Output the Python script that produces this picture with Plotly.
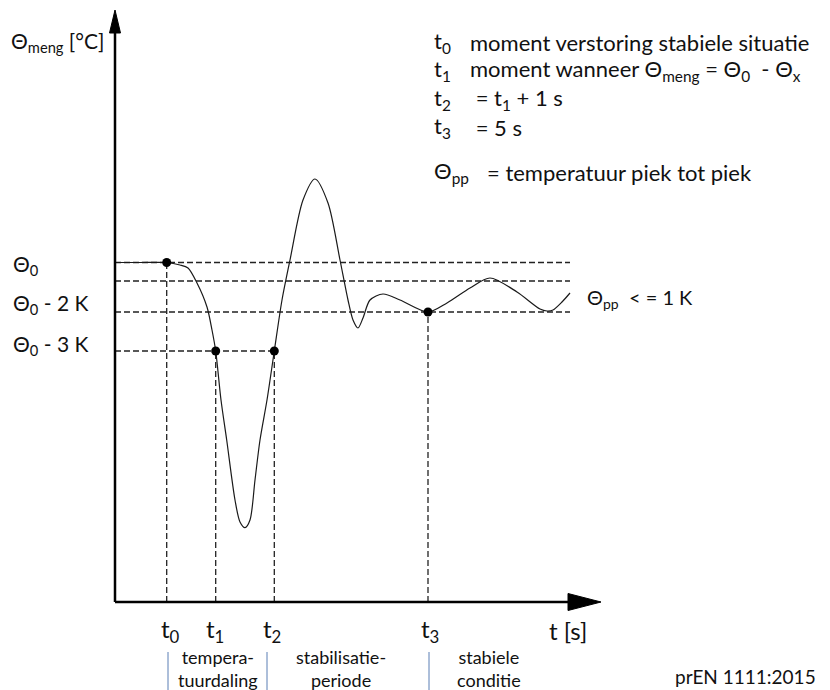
import plotly.graph_objects as go

# Mixing temperature response after a disturbance (schematic, arbitrary units)
time = [0.0, 2.5, 5.17, 6.5, 7.3, 8.2, 9.2, 9.7, 10.07, 10.6, 11.17, 12.0, 12.5, 13.0,
        13.5, 14.0, 14.5, 15.2, 15.93, 16.7, 17.5, 18.8, 20.0, 21.3, 22.5, 23.3, 23.8,
        24.3, 24.8, 25.5, 26.8, 28.5, 31.3, 33.2, 35.5, 37.5, 40.2, 42.5, 43.2, 43.8,
        44.7, 45.5]
temp = [33.95, 33.95, 33.95, 33.7, 33.4, 31.9, 29.5, 27.2, 25.1, 20.2, 16.2, 10.2, 8.0, 7.43,
        8.2, 12.2, 16.2, 20.2, 25.1, 30.2, 34.2, 40.2, 42.3, 39.9, 34.2, 30.2, 28.2,
        27.4, 28.4, 30.2, 30.8, 30.2, 29.0, 29.9, 31.4, 32.4, 31.0, 29.3, 29.1, 29.2,
        30.0, 30.9]

# Reference temperature levels
theta_0 = 33.95
theta_mid = 32.1
theta_2k = 29.0
theta_3k = 25.1
level_end = 45.5

# Characteristic moments
moments = [5.17, 10.07, 15.93, 31.3]
moment_levels = [theta_0, theta_3k, theta_3k, theta_2k]
moment_labels = ["t<sub>0</sub>", "t<sub>1</sub>", "t<sub>2</sub>", "t<sub>3</sub>"]
moment_label_x = [5.5, 10.0, 15.7, 31.5]

# Phase boundaries and phase names
phase_bounds = [5.3, 15.2, 31.4]
phase_names = ["tempera-<br>tuurdaling", "stabilisatie-<br>periode", "stabiele<br>conditie"]
phase_x = [10.3, 22.6, 37.4]

level_labels = ["Θ<sub>0</sub>", "Θ<sub>0</sub> - 2 K", "Θ<sub>0</sub> - 3 K"]
level_label_y = [33.7, 29.8, 25.7]

FONT = "Lato, 'Open Sans', 'DejaVu Sans', sans-serif"
INK = "#111111"
DASH = "6px,3px"

fig = go.Figure()

# Horizontal dashed reference levels
for lvl, x_end in [(theta_0, level_end), (theta_mid, level_end),
                   (theta_2k, level_end), (theta_3k, moments[2])]:
    fig.add_trace(go.Scatter(x=[0, x_end], y=[lvl, lvl], mode="lines",
                             line=dict(color="#222222", width=1.3, dash=DASH),
                             hoverinfo="skip", showlegend=False))

# Vertical dashed drop lines at each moment
for t, lvl in zip(moments, moment_levels):
    fig.add_trace(go.Scatter(x=[t, t], y=[0, lvl], mode="lines",
                             line=dict(color="#222222", width=1.3, dash=DASH),
                             hoverinfo="skip", showlegend=False))

# Temperature curve
fig.add_trace(go.Scatter(x=time, y=temp, mode="lines",
                         line=dict(color="#1a1a1a", width=1.2, shape="spline", smoothing=0.8),
                         hoverinfo="skip", showlegend=False))

# Markers at the characteristic moments
fig.add_trace(go.Scatter(x=moments, y=moment_levels, mode="markers",
                         marker=dict(color="black", size=9),
                         hoverinfo="skip", showlegend=False))

# Axes with arrowheads
fig.add_trace(go.Scatter(x=[0, 0], y=[0, 56.9], mode="lines",
                         line=dict(color="black", width=2.5),
                         hoverinfo="skip", showlegend=False))
fig.add_trace(go.Scatter(x=[0, 45.3], y=[0, 0], mode="lines",
                         line=dict(color="black", width=2.5),
                         hoverinfo="skip", showlegend=False))
fig.add_trace(go.Scatter(x=[-0.55, 0, 0.55, -0.55], y=[56.9, 59.2, 56.9, 56.9],
                         mode="lines", fill="toself", fillcolor="black",
                         line=dict(color="black", width=1),
                         hoverinfo="skip", showlegend=False))
fig.add_trace(go.Scatter(x=[45.3, 48.6, 45.3, 45.3], y=[0.85, 0, -0.85, 0.85],
                         mode="lines", fill="toself", fillcolor="black",
                         line=dict(color="black", width=1),
                         hoverinfo="skip", showlegend=False))

# Phase separators below the time axis
for b in phase_bounds:
    fig.add_trace(go.Scatter(x=[b, b], y=[-5.0, -8.9], mode="lines",
                             line=dict(color="#5b7fb5", width=1),
                             hoverinfo="skip", showlegend=False))

ann = []


def text(x, y, s, size=22, anchor="left"):
    ann.append(dict(x=x, y=y, xref="x", yref="y", text=s, showarrow=False,
                    xanchor=anchor, yanchor="middle",
                    font=dict(family=FONT, size=size, color=INK)))


# Axis titles
text(-10.6, 56.0, "Θ<sub>meng</sub> [°C]", size=21)
text(45.3, -2.8, "t [s]", size=24, anchor="center")

# Level labels on the left
for s, y in zip(level_labels, level_label_y):
    text(-10.4, y, s, size=21)

# Moment labels under the time axis
for s, x in zip(moment_labels, moment_label_x):
    text(x, -2.8, s, size=24, anchor="center")

# Phase names
for s, x in zip(phase_names, phase_x):
    text(x, -6.6, s, size=18, anchor="center")

# Legend block
rows_y = [56.0, 53.2, 50.3, 47.5]
row_keys = ["t<sub>0</sub>", "t<sub>1</sub>", "t<sub>2</sub>", "t<sub>3</sub>"]
row_text = ["moment verstoring stabiele situatie",
            "moment wanneer Θ<sub>meng</sub> = Θ<sub>0</sub>  - Θ<sub>x</sub>",
            " = t<sub>1</sub> + 1 s",
            " = 5 s"]
for k, s, y in zip(row_keys, row_text, rows_y):
    text(31.7, y, k)
    text(35.3, y, s)
text(31.7, 43.0, "Θ<sub>pp</sub>")
text(37.0, 43.0, "= temperatuur piek tot piek")

# Peak-to-peak criterion
text(47.0, 30.4, "Θ<sub>pp</sub>  < = 1 K", size=20)

# Source
text(63.0, -7.4, "prEN 1111:2015", size=19, anchor="center")

fig.update_layout(
    width=830, height=690,
    margin=dict(l=0, r=0, t=0, b=0),
    paper_bgcolor="white", plot_bgcolor="white",
    xaxis=dict(range=[-11.5, 71.5], visible=False, fixedrange=True),
    yaxis=dict(range=[-8.8, 60.2], visible=False, fixedrange=True),
    annotations=ann,
    showlegend=False,
)

fig.write_html("out.html")
